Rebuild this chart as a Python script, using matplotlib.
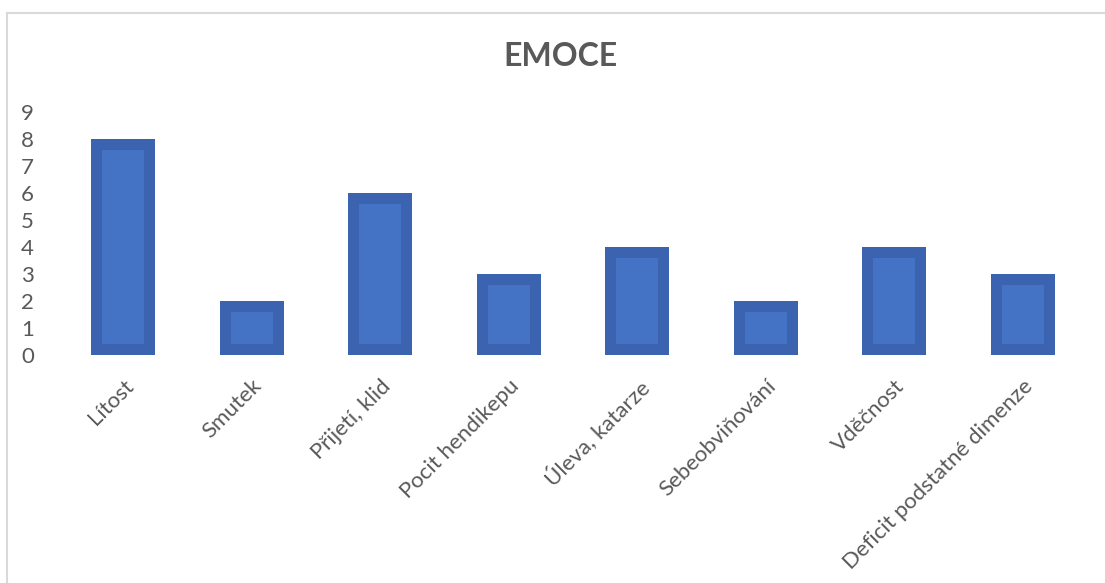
import matplotlib.pyplot as plt
from matplotlib.lines import Line2D

plt.rcParams['font.family'] = ['Lato', 'DejaVu Sans']

categories = ['Lítost', 'Smutek', 'Přijetí, klid', 'Pocit hendikepu', 'Úleva, katarze',
              'Sebeobviňování', 'Vděčnost', 'Deficit podstatné dimenze']
values = [8, 2, 6, 3, 4, 2, 4, 3]
yticks = list(range(0, 10))

text_col = '#595959'

fig = plt.figure(figsize=(11.05, 5.83), dpi=100)
ax = fig.add_axes([59 / 1105, 228 / 583, 1028 / 1105, 243 / 583])

x = list(range(len(categories)))
bars = ax.bar(x, values, width=0.5, color='#4472C4', edgecolor='#3B63AF', linewidth=15.8)
# keep the thick border inside each bar
for b in bars:
    b.set_clip_path(b)

ax.set_xlim(-0.5, len(categories) - 0.5)
ax.set_ylim(0, 9)
ax.set_yticks(yticks)
ax.set_yticklabels([str(v) for v in yticks], fontsize=16, color=text_col)
ax.set_xticks(x)
ax.set_xticklabels(categories, rotation=45, ha='right', rotation_mode='anchor',
                   fontsize=16, color=text_col)
ax.tick_params(axis='y', length=0, pad=18)
ax.tick_params(axis='x', length=0, pad=15)
for s in ax.spines.values():
    s.set_visible(False)

fig.text(560 / 1105, 1 - 57 / 583, 'EMOCE', ha='center', va='center',
         fontsize=23, fontweight='bold', color=text_col)

# chart frame (top and left edges visible)
fig.add_artist(Line2D([6.5 / 1105, 6.5 / 1105], [0, 1 - 12.5 / 583], color='#D9D9D9', lw=1.5))
fig.add_artist(Line2D([6.5 / 1105, 1], [1 - 12.5 / 583, 1 - 12.5 / 583], color='#D9D9D9', lw=1.5))

plt.savefig('out.png', dpi=100)
